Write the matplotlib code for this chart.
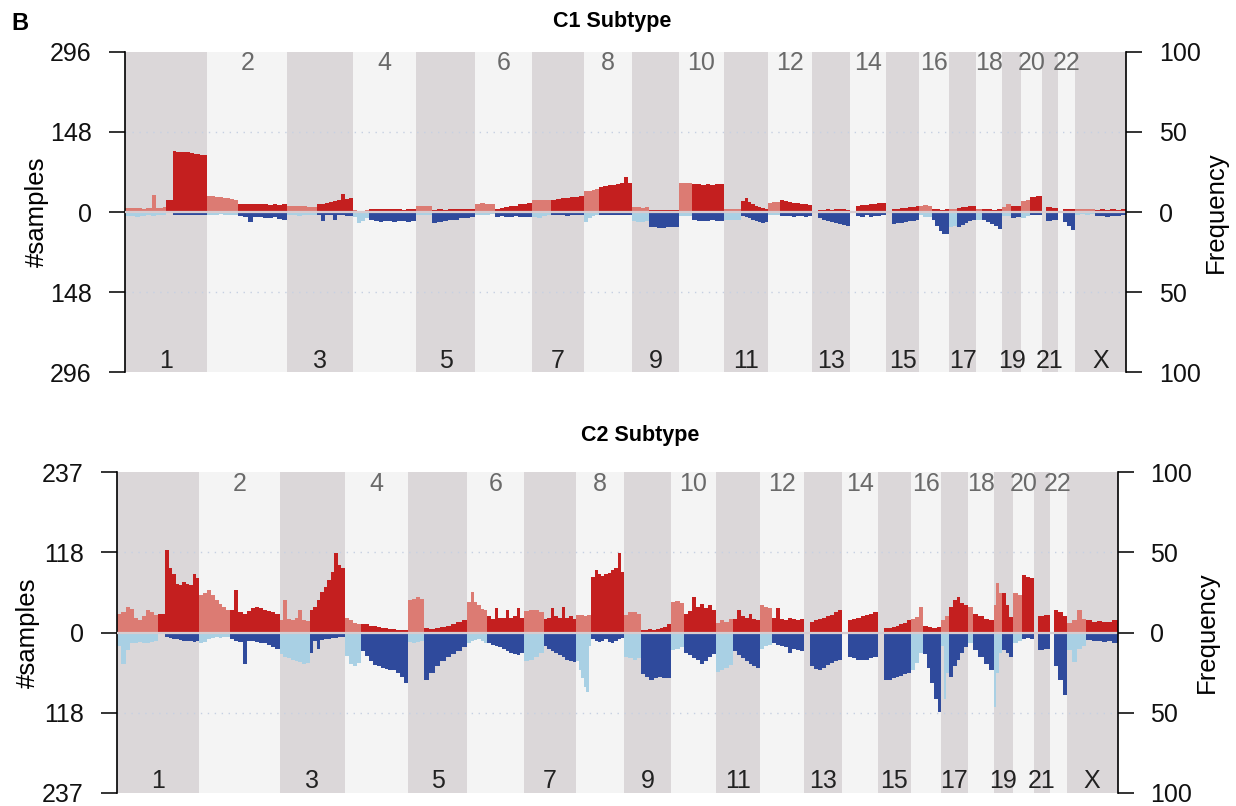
import numpy as np
import matplotlib
matplotlib.use("Agg")
import matplotlib.pyplot as plt
import matplotlib.transforms as mtransforms

plt.rcParams['font.family'] = ['Liberation Sans', 'DejaVu Sans']

# ---------------- data ----------------
CHROMS = [str(i) for i in range(1, 23)] + ["X"]
# chromosome lengths and centromere positions (Mb, hg19)
CHR_LEN = [249.25, 243.2, 198.0, 191.15, 180.9, 171.1, 159.1, 146.4, 141.2, 135.5,
           135.0, 133.85, 115.2, 107.35, 102.5, 90.35, 81.2, 78.1, 59.1, 63.0,
           48.1, 51.3, 155.3]
CHR_CEN = [125.0, 93.3, 91.0, 50.4, 48.4, 61.0, 59.9, 45.6, 49.0, 40.2,
           53.7, 35.8, 17.9, 17.6, 19.0, 36.6, 24.0, 17.2, 26.5, 27.5,
           13.2, 14.7, 60.6]

C1_N = 296
C2_N = 237

# number of samples with gain / loss, per arm (p, q for each chromosome),
# values spread along the arm in order
c1_gain = [
    [7, 7, 8, 8, 7, 6, 7, 8, 31, 7, 8, 9], [23, 23, 112, 111, 111, 110, 110, 109, 108, 107, 106, 105],
    [30, 29, 28, 27, 26, 25, 24, 23], [15, 14, 14, 15, 14, 14, 13, 14, 13, 14],
    [12, 12, 11, 11, 10, 10], [15, 15, 17, 18, 20, 22, 33, 24, 25],
    [3, 2, 0, 3], [5, 6, 5, 6, 5, 6, 5, 4, 5, 6],
    [12, 12, 11, 12], [4, 5, 4, 5, 5, 6, 5, 6],
    [15, 16, 15, 14], [6, 8, 10, 11, 12, 14, 15, 17],
    [22, 23, 23, 22], [23, 24, 25, 26, 27, 28, 29],
    [38, 39, 40, 42], [46, 48, 49, 50, 52, 53, 65, 54],
    [9, 9, 8, 9], [3, 4, 4, 3, 4, 4, 3],
    [54, 54, 53], [51, 51, 50, 51, 50, 51, 51],
    [6, 5, 6, 5], [20, 25, 18, 15, 12, 10, 8, 6],
    [17, 18, 18], [22, 20, 18, 17, 16, 15, 14, 13],
    [], [4, 4, 5, 4, 5, 6, 5, 4],
    [], [12, 13, 13, 14, 15, 16, 17],
    [], [5, 6, 7, 8, 9, 10, 12],
    [12, 13, 11], [5, 5, 4, 5],
    [6, 5], [7, 9, 10, 12, 11],
    [6], [5, 5, 4, 5],
    [10, 14], [12, 11],
    [20, 22], [28, 29],
    [], [9, 8],
    [], [6, 5],
    [6, 5, 6, 5], [4, 5, 4, 5, 4, 5],
]
c1_loss = [
    [8, 7, 9, 8, 6, 7, 5, 6], [0, 0, 5, 6, 5, 5, 6, 5, 6, 5, 6, 5],
    [5, 6, 5, 4, 5, 6, 5, 5], [8, 10, 18, 9, 10, 11, 12, 10, 13, 15],
    [5, 6, 7, 6, 5, 6], [6, 17, 6, 5, 15, 6, 6, 7, 8],
    [10, 21, 17, 12], [15, 17, 18, 16, 17, 18, 16, 17, 18, 16],
    [6, 5, 6, 5], [20, 18, 17, 15, 14, 12, 11, 10],
    [5, 6, 5, 4], [9, 8, 10, 9, 8, 9, 10, 9],
    [10, 12, 8, 6], [6, 5, 6, 7, 6, 5, 6],
    [18, 12, 8, 6], [6, 5, 6, 5, 6, 5, 6, 5],
    [17, 18, 18, 17], [27, 28, 29, 29, 28, 27, 28],
    [8, 7, 8], [15, 16, 17, 16, 15, 16, 17],
    [14, 15, 15, 14], [8, 10, 12, 14, 16, 18, 20, 19],
    [6, 5, 6], [8, 7, 8, 9, 7, 8, 9, 8],
    [], [12, 14, 16, 18, 20, 22, 24, 25],
    [], [8, 10, 6, 9, 8, 7, 6],
    [], [22, 21, 20, 18, 17, 16, 15],
    [6, 9, 10], [15, 25, 35, 40, 40],
    [28, 26], [27, 24, 20, 17, 15],
    [15], [15, 18, 22, 26, 31],
    [8, 7], [12, 10],
    [12, 8], [5, 6],
    [], [16, 14],
    [], [18, 26, 34],
    [5, 4, 6, 3], [8, 7, 9, 8, 7, 6],
]
c2_gain = [
    [28, 30, 38, 35, 22, 18, 24, 33, 30, 26], [28, 28, 122, 95, 87, 72, 70, 75, 72, 70, 86, 80],
    [55, 58, 63, 55, 48, 42, 38, 34], [33, 63, 30, 28, 32, 36, 38, 36, 34, 32, 30, 27],
    [18, 48, 20, 18, 22, 33, 19, 17], [33, 38, 48, 60, 68, 77, 90, 117, 100, 96],
    [22, 18, 14, 13], [13, 12, 10, 9, 8, 7, 6, 5, 5, 4, 3, 3],
    [48, 50, 52, 50], [6, 5, 6, 8, 10, 12, 15, 18],
    [45, 60, 45, 40, 35, 33], [24, 20, 36, 22, 21, 34, 22, 24, 36, 22],
    [32, 34, 33, 31], [20, 22, 36, 24, 22, 38, 22, 24, 20],
    [26, 26, 25, 26], [82, 92, 86, 84, 86, 88, 92, 95, 117, 90],
    [26, 30, 31, 28], [4, 4, 5, 4, 5, 6, 8, 12],
    [45, 46, 44], [28, 32, 53, 38, 42, 36, 40, 34],
    [14, 18, 16, 20], [20, 33, 24, 22, 28, 20, 18],
    [40, 38, 36], [22, 36, 20, 18, 22, 20, 18, 20],
    [], [16, 18, 20, 22, 24, 26, 30, 33],
    [], [18, 20, 22, 24, 26, 28, 31],
    [], [6, 6, 8, 10, 12, 14, 18],
    [20, 23, 38], [9, 8, 7, 8],
    [18, 24], [38, 48, 53, 44, 40],
    [38], [28, 24, 20, 18],
    [40, 73, 58], [58, 40, 23],
    [58, 55], [85, 82, 80],
    [], [24, 26],
    [], [33, 30, 24],
    [14, 18, 33, 20], [18, 16, 17, 16, 15, 18],
]
c2_loss = [
    [20, 46, 26, 16, 15, 14, 16, 15, 14, 13], [0, 0, 6, 8, 9, 10, 11, 12, 13, 12, 14, 13],
    [16, 14, 10, 8, 7, 8, 7, 6], [10, 12, 14, 46, 13, 12, 14, 15, 16, 18, 22, 24],
    [32, 36, 38, 40, 42, 44, 46, 45], [31, 12, 25, 11, 10, 9, 8, 8, 7, 6],
    [35, 46, 50, 45], [28, 35, 42, 48, 50, 52, 54, 55, 56, 60, 66, 75],
    [14, 15, 14, 13], [71, 60, 50, 42, 36, 32, 28, 22],
    [15, 12, 11, 10, 12, 16], [16, 18, 20, 22, 24, 27, 30, 32, 34, 30],
    [42, 40, 36, 30], [20, 24, 28, 30, 33, 36, 40, 42, 43],
    [42, 55, 68, 80, 88, 20], [10, 12, 14, 12, 10, 14, 16, 12, 10, 8],
    [36, 38, 40, 38], [62, 66, 70, 68, 66, 67, 68],
    [26, 24, 22], [30, 34, 38, 40, 46, 42, 36, 32],
    [58, 55, 52, 48], [28, 34, 38, 42, 46, 50, 53],
    [24, 20, 18], [16, 18, 20, 22, 30, 24, 26, 28],
    [], [50, 54, 56, 52, 48, 45, 42, 40],
    [], [36, 38, 40, 41, 40, 38, 36],
    [], [71, 70, 68, 66, 64, 62, 60],
    [56, 45, 31], [32, 52, 75, 98, 117],
    [20, 98, 60], [66, 50, 40, 30, 21],
    [16], [26, 36, 46, 56],
    [110, 60, 30], [26, 30, 36],
    [16, 12], [9, 8, 10],
    [], [26, 24],
    [], [50, 70, 93],
    [26, 43, 24, 20], [11, 12, 13, 14, 12, 15],
]

# ---------------- style ----------------
COL_P_GAIN = '#dc7b73'
COL_Q_GAIN = '#c41f1f'
COL_P_LOSS = '#a9d0e4'
COL_Q_LOSS = '#2f4a9c'
BAND_DARK = '#dbd7d9'
BAND_LIGHT = '#f4f4f4'

W, H = 1236, 806
fig = plt.figure(figsize=(W / 100, H / 100), dpi=100)

starts = np.concatenate([[0], np.cumsum(CHR_LEN)[:-1]])
total = float(np.sum(CHR_LEN))


def panel(rect, n, gain, loss, title, title_xy, ylab_x, flab_x):
    ax = fig.add_axes(rect)
    ax.set_xlim(0, total)
    ax.set_ylim(-n, n)
    for i, (s, L) in enumerate(zip(starts, CHR_LEN)):
        ax.axvspan(s, s + L, color=BAND_DARK if i % 2 == 0 else BAND_LIGHT, lw=0, zorder=0)
    for yv in (n / 2, -n / 2):
        ax.axhline(yv, color='#c6d0e2', lw=1.0, ls=(0, (1, 4)), zorder=1)
    for i, (s, L, c) in enumerate(zip(starts, CHR_LEN, CHR_CEN)):
        arms = [(s, s + c), (s + c, s + L)]
        for a, (x0, x1) in enumerate(arms):
            k = 2 * i + a
            g = gain[k]
            l = loss[k]
            if len(g):
                e = np.linspace(x0, x1, len(g) + 1)
                ax.stairs(np.array(g, float), e, baseline=0, fill=True,
                          color=COL_P_GAIN if a == 0 else COL_Q_GAIN, lw=0, zorder=2)
            if len(l):
                e = np.linspace(x0, x1, len(l) + 1)
                ax.stairs(-np.array(l, float), e, baseline=0, fill=True,
                          color=COL_P_LOSS if a == 0 else COL_Q_LOSS, lw=0, zorder=2)
    ax.axhline(0, color='#d6ccd0', lw=1.6, zorder=3)

    trans = mtransforms.blended_transform_factory(ax.transData, ax.transAxes)
    for i, (s, L) in enumerate(zip(starts, CHR_LEN)):
        mid = s + L / 2
        if i % 2 == 1:
            ax.text(mid, 0.965, CHROMS[i], transform=trans, ha='center', va='center',
                    fontsize=18, color='#6a6a6a', zorder=4)
        else:
            ax.text(mid, 0.035, CHROMS[i], transform=trans, ha='center', va='center',
                    fontsize=18, color='#222222', zorder=4)

    for sp in ('top', 'bottom', 'right'):
        ax.spines[sp].set_visible(False)
    ax.spines['left'].set_linewidth(1.2)
    ax.set_xticks([])
    ax.set_yticks([-n, -n / 2, 0, n / 2, n])
    ax.set_yticklabels([str(n), str(int(round(n / 2 - 0.01))), '0',
                        str(int(round(n / 2 - 0.01))), str(n)])
    ax.tick_params(axis='y', length=11.5, width=1.2, pad=12.5, labelsize=18, colors='#111111')

    ax2 = ax.twinx()
    ax2.set_ylim(-100, 100)
    for sp in ('top', 'bottom', 'left'):
        ax2.spines[sp].set_visible(False)
    ax2.spines['right'].set_linewidth(1.2)
    ax2.set_yticks([-100, -50, 0, 50, 100])
    ax2.set_yticklabels(['100', '50', '0', '50', '100'])
    ax2.tick_params(axis='y', length=11.5, width=1.2, pad=12, labelsize=18, colors='#111111')

    y0 = rect[1] + rect[3] / 2
    fig.text(ylab_x / W, y0, '#samples', rotation=90, ha='center', va='center', fontsize=18.5)
    fig.text(flab_x / W, y0, 'Frequency', rotation=90, ha='center', va='center', fontsize=18.5)
    fig.text(title_xy[0] / W, 1 - title_xy[1] / H, title, ha='center', va='center',
             fontsize=15.5, fontweight='bold')
    return ax


panel([125 / W, (H - 372.3) / H, (1126 - 125) / W, 320.6 / H], C1_N, c1_gain, c1_loss,
      'C1 Subtype', (612, 22), 37, 1216)
panel([117.3 / W, (H - 792.7) / H, (1117.7 - 117.3) / W, 320.4 / H], C2_N, c2_gain, c2_loss,
      'C2 Subtype', (640, 436), 28, 1207)

fig.text(20 / W, 1 - 24 / H, 'B', ha='center', va='center', fontsize=17, fontweight='bold')

fig.savefig('out.png', dpi=100)
